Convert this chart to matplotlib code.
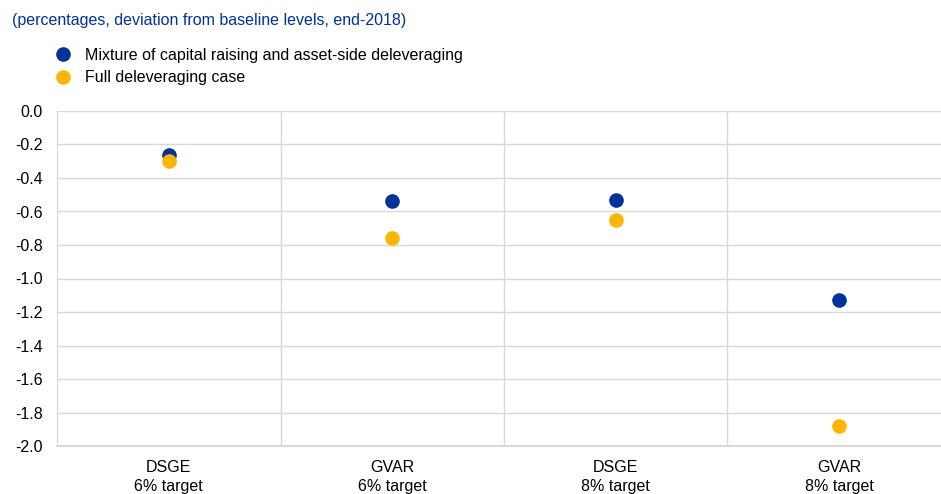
import matplotlib.pyplot as plt
from matplotlib.lines import Line2D

plt.rcParams['font.family'] = ['Liberation Sans', 'DejaVu Sans']
plt.rcParams['font.size'] = 11.5

# 数据
categories = ["DSGE\n6% target", "GVAR\n6% target", "DSGE\n8% target", "GVAR\n8% target"]
mixture = [-0.26, -0.54, -0.53, -1.13]
full_delev = [-0.30, -0.76, -0.65, -1.88]
series_names = ["Mixture of capital raising and asset-side deleveraging", "Full deleveraging case"]

blue = "#003299"
yellow = "#ffb400"
grid_c = "#d9d9d9"

fig = plt.figure(figsize=(9.41, 4.94), dpi=100)
# 图区右侧超出画布（原图被裁切）
ax = fig.add_axes([57 / 941, 48 / 494, 894 / 941, 335 / 494])

x = list(range(len(categories)))
ax.plot(x, mixture, "o", color=blue, markersize=9.5, zorder=3)
ax.plot(x, full_delev, "o", color=yellow, markersize=9.5, zorder=4)

ax.set_xlim(-0.5, len(categories) - 0.5)
ax.set_ylim(-2.0, 0.0)
ax.set_yticks([i / 10 for i in range(-20, 1, 2)])
ax.set_yticklabels(["%.1f" % (i / 10) for i in range(-20, 1, 2)])
ax.yaxis.grid(True, color=grid_c, lw=1)
for b in [i - 0.5 for i in range(len(categories) + 1)]:
	ax.axvline(b, color=grid_c, lw=1, zorder=1)
ax.set_axisbelow(True)

ax.set_xticks(x)
ax.set_xticklabels(categories, linespacing=1.35)
for s in ["top", "right", "left"]:
	ax.spines[s].set_visible(False)
ax.spines["bottom"].set_color(grid_c)
ax.spines["bottom"].set_linewidth(1.5)
ax.tick_params(axis="both", length=0, labelsize=11.5)
ax.tick_params(axis="x", pad=10)
ax.tick_params(axis="y", pad=10)

# 标题与图例
fig.text(12 / 941, 1 - 20 / 494, "(percentages, deviation from baseline levels, end-2018)",
		 color=blue, fontsize=11.5, va="center", ha="left")
handles = [Line2D([], [], ls="", marker="o", color=c, markersize=9.5) for c in [blue, yellow]]
fig.legend(handles, series_names, loc="upper left", bbox_to_anchor=(55 / 941, 1 - 48 / 494),
		   frameon=False, fontsize=11.5, handlelength=1.0, handletextpad=0.85,
		   labelspacing=0.45, borderaxespad=0, borderpad=0)

fig.savefig("out.png", dpi=100)
